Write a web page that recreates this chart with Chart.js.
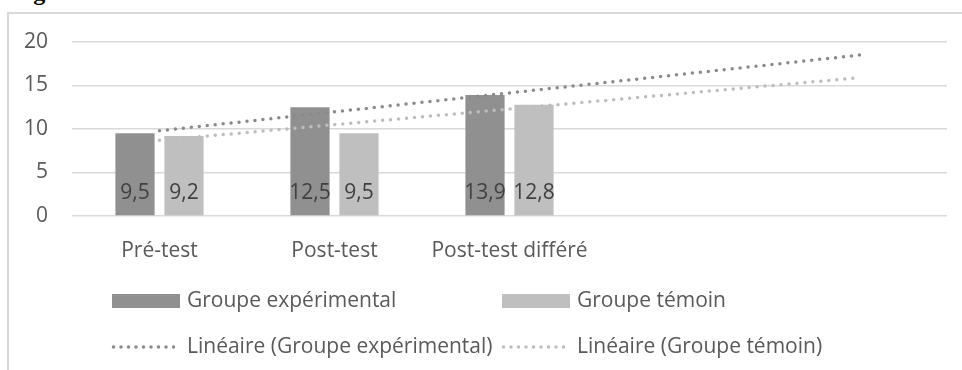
<!DOCTYPE html>
<html>
<head>
<meta charset="utf-8">
<script src="https://cdn.jsdelivr.net/npm/chart.js@4"></script>
<style>
  html, body { margin: 0; padding: 0; background: #fff; overflow: hidden; }
  #wrap { position: relative; width: 962px; height: 370px; }
  #frame { position: absolute; left: 7px; top: 12px; width: 980px; height: 400px;
           border-left: 2px solid #d9d9d9; border-top: 2px solid #d9d9d9; }
  #caption { position: absolute; left: 12px; top: -21px; font: bold 24px "Liberation Serif", serif; color: #000; }
  canvas { position: absolute; left: 0; top: 0; }
</style>
</head>
<body>
<div id="wrap">
  <div id="caption">Figure</div>
  <div id="frame"></div>
  <canvas id="scores" width="962" height="370"></canvas>
</div>
<script>
// Moyennes par test et par groupe
var categories = ['Pré-test', 'Post-test', 'Post-test différé', '', ''];
var experimental = [9.5, 12.5, 13.9];
var temoin = [9.2, 9.5, 12.8];
// Courbes de tendance linéaire (début et fin)
var trendExperimental = [9.8, null, null, null, 18.5];
var trendTemoin = [8.7, null, null, null, 15.9];
var yTicks = [0, 5, 10, 15, 20];

var textColor = '#595959';
var fontFamily = '"Open Sans", sans-serif';
var fontSize = 21;

// étiquettes de valeur en bas des barres
var barLabels = {
    id: 'barLabels',
    afterDatasetsDraw: function (chart) {
        var ctx = chart.ctx;
        var base = chart.scales.y.getPixelForValue(0);
        ctx.save();
        ctx.font = fontSize + 'px ' + fontFamily;
        ctx.fillStyle = '#404040';
        ctx.textAlign = 'center';
        ctx.textBaseline = 'middle';
        chart.data.datasets.forEach(function (ds, i) {
            if (ds.type === 'line') return;
            chart.getDatasetMeta(i).data.forEach(function (bar, j) {
                var v = ds.data[j];
                if (v == null) return;
                ctx.fillText(String(v).replace('.', ','), bar.x, base - 23);
            });
        });
        ctx.restore();
    }
};

// légende sur deux colonnes
var gridLegend = {
    id: 'gridLegend',
    afterDraw: function (chart) {
        var ctx = chart.ctx;
        var cols = [112, 502];
        var rows = [301, 347];
        ctx.save();
        ctx.font = fontSize + 'px ' + fontFamily;
        ctx.textBaseline = 'middle';
        chart.data.datasets.forEach(function (ds, i) {
            var x = cols[i % 2];
            var y = rows[Math.floor(i / 2)];
            if (ds.type === 'line') {
                ctx.beginPath();
                ctx.strokeStyle = ds.borderColor;
                ctx.lineWidth = ds.borderWidth;
                ctx.lineCap = 'round';
                ctx.setLineDash([0, 7.5]);
                ctx.moveTo(x + 1.5, y);
                ctx.lineTo(x + 68, y);
                ctx.stroke();
                ctx.setLineDash([]);
            } else {
                ctx.fillStyle = ds.backgroundColor;
                ctx.fillRect(x, y - 7, 68, 14);
            }
            ctx.fillStyle = textColor;
            ctx.fillText(ds.label, x + 75, y);
        });
        ctx.restore();
    }
};

var ctx = document.getElementById('scores').getContext('2d');
var scoresChart = new Chart(ctx, {
    type: 'bar',
    data: {
        labels: categories,
        datasets: [
            {
                label: 'Groupe expérimental',
                data: experimental,
                backgroundColor: '#909090',
                categoryPercentage: 0.56,
                barPercentage: 0.8,
                order: 1
            },
            {
                label: 'Groupe témoin',
                data: temoin,
                backgroundColor: '#bfbfbf',
                categoryPercentage: 0.56,
                barPercentage: 0.8,
                order: 1
            },
            {
                type: 'line',
                label: 'Linéaire (Groupe expérimental)',
                data: trendExperimental,
                borderColor: '#8a8a8a',
                borderWidth: 3.5,
                borderDash: [0, 8],
                borderCapStyle: 'round',
                pointRadius: 0,
                spanGaps: true,
                order: 0
            },
            {
                type: 'line',
                label: 'Linéaire (Groupe témoin)',
                data: trendTemoin,
                borderColor: '#bdbdbd',
                borderWidth: 3.5,
                borderDash: [0, 8],
                borderCapStyle: 'round',
                pointRadius: 0,
                spanGaps: true,
                order: 0
            }
        ]
    },
    options: {
        responsive: false,
        animation: false,
        layout: { padding: { left: 0, top: 42, right: 15, bottom: 104 } },
        plugins: {
            legend: { display: false },
            tooltip: { enabled: false }
        },
        scales: {
            x: {
                grid: { display: false },
                border: { display: false },
                ticks: { color: textColor, font: { family: fontFamily, size: fontSize }, padding: 14, maxRotation: 0, autoSkip: false },
                afterFit: function (scale) { scale.height = 50; }
            },
            y: {
                min: 0,
                max: 20,
                afterBuildTicks: function (scale) {
                    scale.ticks = yTicks.map(function (v) { return { value: v }; });
                },
                grid: { color: '#d9d9d9', lineWidth: 1.5, drawTicks: false },
                border: { display: false },
                ticks: { color: textColor, font: { family: fontFamily, size: fontSize }, padding: 24 },
                afterFit: function (scale) { scale.width = 72; }
            }
        }
    },
    plugins: [barLabels, gridLegend]
});
</script>
</body>
</html>
